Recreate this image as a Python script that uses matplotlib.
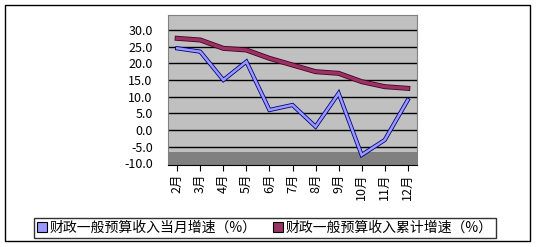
import matplotlib.pyplot as plt
from matplotlib.patches import Rectangle

plt.rcParams['font.family'] = ['Noto Sans CJK SC', 'DejaVu Sans']

months = ['2月', '3月', '4月', '5月', '6月', '7月', '8月', '9月', '10月', '11月', '12月']
monthly = [24.5, 23.5, 15.0, 20.5, 6.0, 7.5, 1.0, 11.0, -7.5, -3.0, 9.0]
cumulative = [27.5, 27.0, 24.5, 24.0, 21.5, 19.5, 17.5, 17.0, 14.5, 13.0, 12.5]
yticks = [-10, -5, 0, 5, 10, 15, 20, 25, 30]
labels = ['财政一般预算收入当月增速（%）', '财政一般预算收入累计增速（%）']


def make_plot():
    W, H = 536, 247
    fig = plt.figure(figsize=(W / 100, H / 100), dpi=100)
    fig.patches.append(Rectangle((5 / W, 1 - 241 / H), 525 / W, 236 / H,
                                 transform=fig.transFigure, fill=False,
                                 edgecolor='black', lw=1))

    ax = fig.add_axes([168 / W, 1 - 165 / H, (417 - 168) / W, (165 - 15) / H])
    ax.set_facecolor('#c0c0c0')
    x = list(range(len(months)))
    ax.set_xlim(-0.4, len(months) - 0.6)
    ax.set_ylim(-10.5, 34.5)

    for v in yticks:
        ax.axhline(v, color='black', lw=1, zorder=1)
    ax.axhspan(-10.5, -6.5, color='#808080', zorder=1.5, lw=0)

    # ribbon-like lines
    ax.plot(x, cumulative, color='#4a0020', lw=3.6, zorder=3, solid_joinstyle='miter')
    ax.plot(x, cumulative, color='#993366', lw=2.4, zorder=3.1, solid_joinstyle='miter')
    ax.plot(x, monthly, color='#000080', lw=3.0, zorder=4, solid_joinstyle='miter')
    ax.plot(x, monthly, color='#9999ff', lw=1.8, zorder=4.1, solid_joinstyle='miter')

    ax.set_yticks(yticks)
    ax.set_yticklabels(['%.1f' % v for v in yticks], fontsize=9)
    ax.set_xticks(x)
    ax.set_xticklabels(months, rotation=90, fontsize=9)
    ax.tick_params(axis='y', length=0, pad=11)
    ax.tick_params(axis='x', length=4, direction='out', pad=2)
    for side in ['top', 'right', 'left']:
        ax.spines[side].set_color('#808080')
    ax.spines['bottom'].set_color('black')

    handles = [Rectangle((0, 0), 1, 1, facecolor='#9999ff', edgecolor='black', lw=0.8),
               Rectangle((0, 0), 1, 1, facecolor='#993366', edgecolor='black', lw=0.8)]
    leg = fig.legend(handles, labels, loc='center', ncol=2,
                     bbox_to_anchor=(265 / W, 1 - 228 / H), fontsize=10,
                     frameon=True, fancybox=False, handlelength=0.7,
                     handleheight=0.7, handletextpad=0.2, columnspacing=1.2,
                     borderpad=0.2, borderaxespad=0)
    leg.get_frame().set_edgecolor('black')
    leg.get_frame().set_linewidth(1)

    plt.savefig('out.png', dpi=100)


make_plot()
